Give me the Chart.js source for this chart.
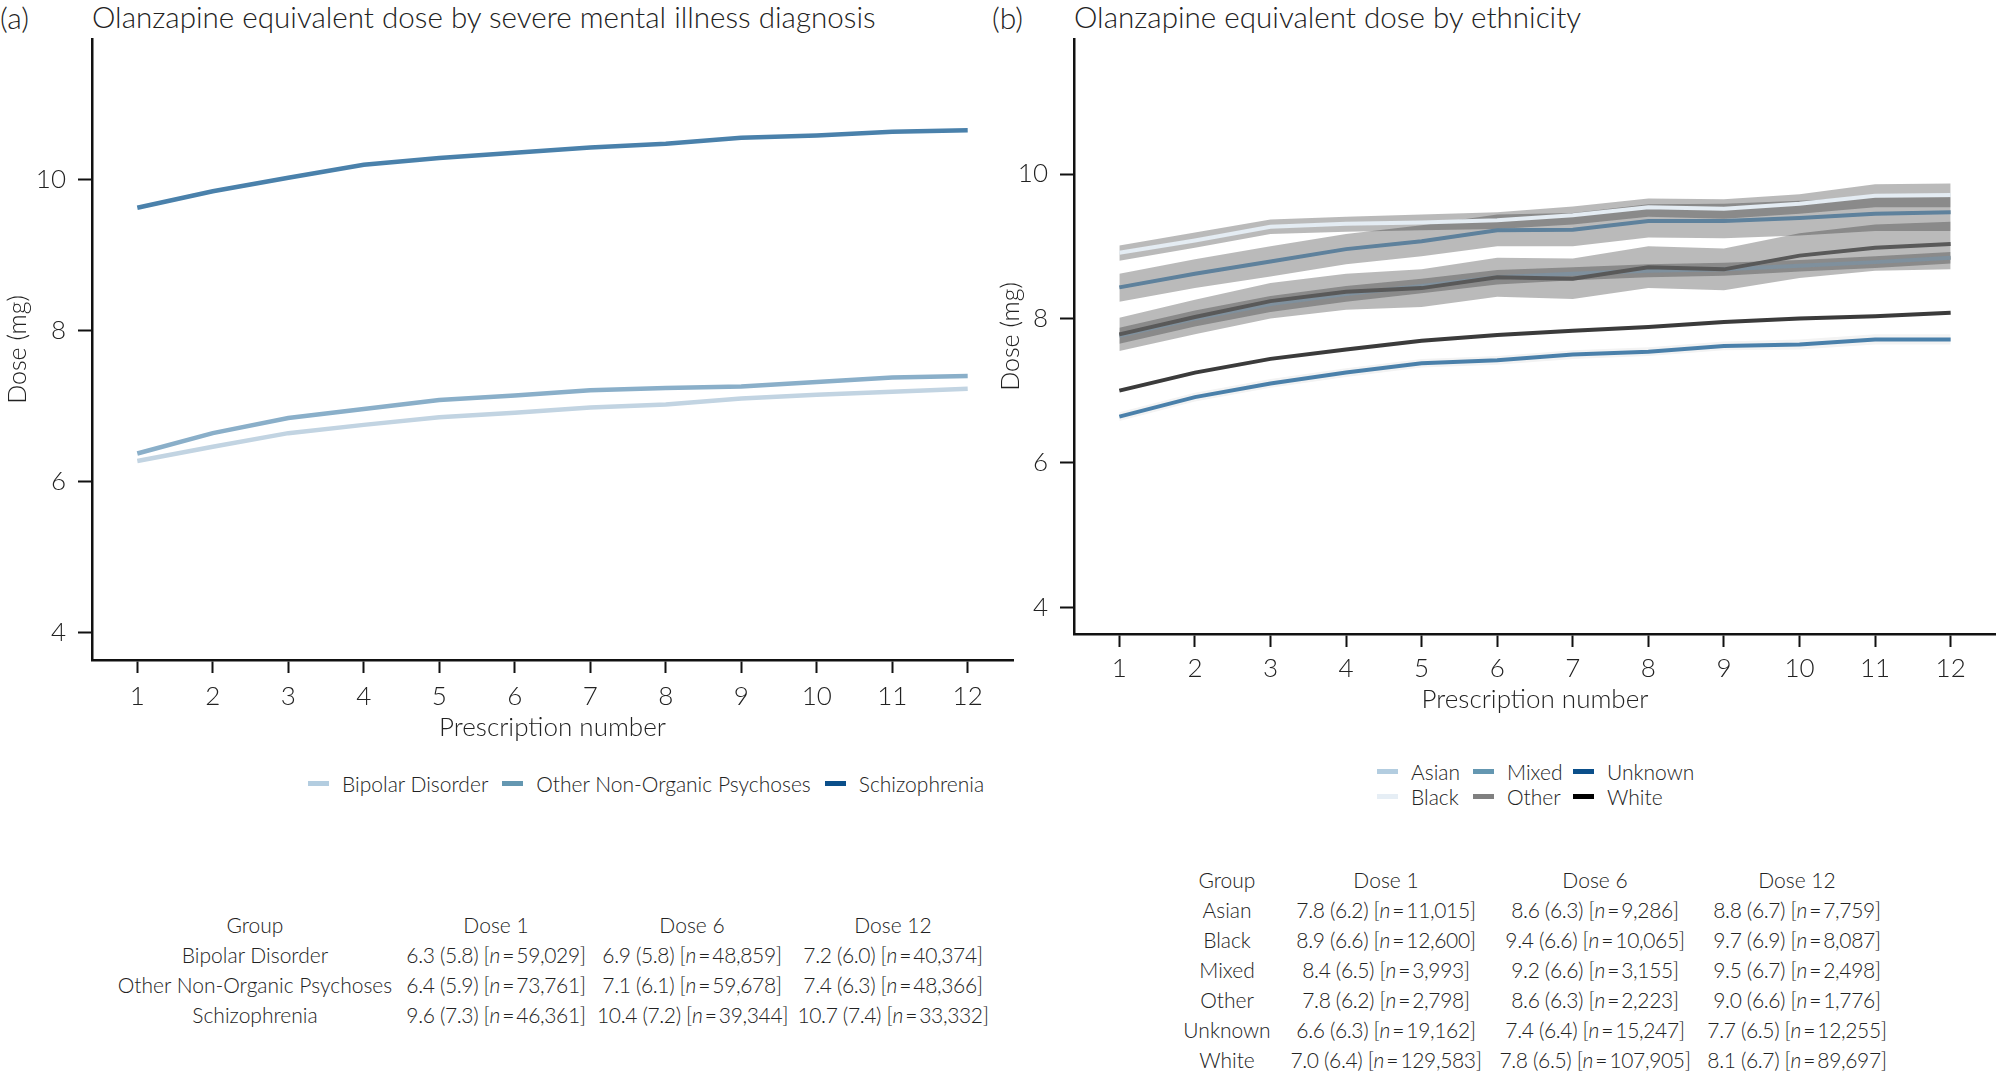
<!DOCTYPE html>
<html>
<head>
<meta charset="utf-8">
<title>Olanzapine equivalent dose</title>
<script src="https://cdn.jsdelivr.net/npm/chart.js@4.4.1/dist/chart.umd.min.js"></script>
<style>
  html, body { margin: 0; padding: 0; background: #fff; }
  body {
    width: 1996px; height: 1075px; position: relative; overflow: hidden;
    font-family: Lato, 'Noto Sans', sans-serif; font-weight: 300; color: #222;
  }
  .tag, .title { position: absolute; top: 0; font-size: 30px; line-height: 34px; white-space: nowrap; }
  .title { font-size: 29.6px; }
  .box { position: absolute; }
  .legend { position: absolute; font-size: 21px; line-height: 25px; white-space: nowrap; }
  .legend .item { display: flex; align-items: center; }
  .legend .sw { width: 21px; height: 5px; margin-right: 13px; flex: none; }
  #legendA { left: 308px; top: 771px; display: flex; gap: 14px; }
  #legendB { left: 1377px; top: 759px; display: grid; grid-auto-flow: column;
             grid-template-rows: 25px 25px; grid-template-columns: 96px 100px auto; }
  table.stats { position: absolute; border-collapse: collapse; font-size: 21px; table-layout: fixed; }
  table.stats td { padding: 0; text-align: center; white-space: nowrap; height: 30px; line-height: 30px; }
  table.stats td.v { letter-spacing: -0.35px; }
  table.stats i { font-style: italic; }
  #tableA { left: 115px; top: 910px; width: 884px; }
  #tableB { left: 1167px; top: 865px; width: 722px; }
</style>
</head>
<body>

<div class="tag" style="left:0">(a)</div>
<div class="title" style="left:92px">Olanzapine equivalent dose by severe mental illness diagnosis</div>
<div class="tag" style="left:992px">(b)</div>
<div class="title" style="left:1074px">Olanzapine equivalent dose by ethnicity</div>

<div class="box" style="left:0;top:0;width:1030px;height:743px"><canvas id="chartA"></canvas></div>
<div class="box" style="left:982px;top:0;width:1014px;height:715px"><canvas id="chartB"></canvas></div>

<div class="legend" id="legendA"></div>
<div class="legend" id="legendB"></div>

<table class="stats" id="tableA">
  <colgroup><col style="width:280px"><col style="width:202px"><col style="width:190px"><col style="width:212px"></colgroup>
  <tbody></tbody>
</table>
<table class="stats" id="tableB">
  <colgroup><col style="width:120px"><col style="width:198px"><col style="width:220px"><col style="width:184px"></colgroup>
  <tbody></tbody>
</table>

<script>
// ─── Data ─────────────────────────────────────────────────────────────────

const doses  = [1, 2, 3, 4, 5, 6, 7, 8, 9, 10, 11, 12];
const yTicks = [4, 6, 8, 10];

// (a) by diagnosis
const diagnoses      = ['Bipolar Disorder', 'Other Non-Organic Psychoses', 'Schizophrenia'];
const bipolar        = [6.27, 6.46, 6.64, 6.75, 6.85, 6.91, 6.98, 7.02, 7.10, 7.15, 7.19, 7.23];
const otherPsychoses = [6.37, 6.64, 6.84, 6.96, 7.08, 7.14, 7.21, 7.24, 7.26, 7.32, 7.38, 7.40];
const schizophrenia  = [9.63, 9.85, 10.03, 10.20, 10.29, 10.36, 10.43, 10.48, 10.56, 10.59, 10.64, 10.66];

// (b) by ethnicity: mean line plus ribbon bounds
const ethnicities = ['Asian', 'Black', 'Mixed', 'Other', 'Unknown', 'White'];

const asianMean = [7.76, 8.00, 8.20, 8.34, 8.45, 8.57, 8.62, 8.66, 8.68, 8.73, 8.78, 8.84];
const asianHi   = [7.87, 8.11, 8.31, 8.45, 8.55, 8.67, 8.71, 8.75, 8.77, 8.81, 8.86, 8.92];
const asianLo   = [7.65, 7.89, 8.09, 8.23, 8.35, 8.47, 8.53, 8.57, 8.59, 8.65, 8.70, 8.76];

const blackMean = [8.91, 9.08, 9.27, 9.31, 9.33, 9.36, 9.43, 9.54, 9.52, 9.59, 9.70, 9.71];
const blackHi   = [9.01, 9.19, 9.37, 9.41, 9.44, 9.47, 9.55, 9.66, 9.65, 9.72, 9.86, 9.87];
const blackLo   = [8.80, 8.98, 9.17, 9.20, 9.22, 9.24, 9.30, 9.41, 9.38, 9.45, 9.54, 9.54];

const mixedMean = [8.43, 8.62, 8.79, 8.96, 9.07, 9.22, 9.23, 9.35, 9.35, 9.39, 9.45, 9.47];
const mixedHi   = [8.62, 8.82, 9.00, 9.17, 9.29, 9.44, 9.46, 9.58, 9.59, 9.63, 9.68, 9.68];
const mixedLo   = [8.23, 8.42, 8.58, 8.75, 8.86, 9.00, 9.00, 9.12, 9.11, 9.15, 9.21, 9.21];

const otherMean = [7.78, 8.02, 8.24, 8.37, 8.42, 8.57, 8.55, 8.71, 8.68, 8.87, 8.98, 9.03];
const otherHi   = [8.01, 8.26, 8.49, 8.62, 8.68, 8.84, 8.83, 9.00, 8.97, 9.18, 9.30, 9.34];
const otherLo   = [7.55, 7.78, 8.00, 8.12, 8.16, 8.30, 8.27, 8.42, 8.39, 8.56, 8.66, 8.68];

const unknownMean = [6.64, 6.91, 7.10, 7.25, 7.38, 7.42, 7.50, 7.54, 7.62, 7.64, 7.71, 7.71];
const unknownHi   = [6.70, 6.97, 7.16, 7.31, 7.44, 7.48, 7.56, 7.60, 7.68, 7.71, 7.78, 7.78];
const unknownLo   = [6.58, 6.85, 7.04, 7.19, 7.32, 7.36, 7.44, 7.48, 7.56, 7.57, 7.64, 7.64];

const whiteMean = [7.00, 7.25, 7.44, 7.57, 7.69, 7.77, 7.83, 7.88, 7.95, 8.00, 8.03, 8.08];
const whiteHi   = [7.03, 7.28, 7.47, 7.60, 7.72, 7.80, 7.86, 7.91, 7.98, 8.03, 8.06, 8.11];
const whiteLo   = [6.97, 7.22, 7.41, 7.54, 7.66, 7.74, 7.80, 7.85, 7.92, 7.97, 8.00, 8.05];

// Summary tables: mean (sd) and n at doses 1, 6 and 12
const tableHeader = ['Group', 'Dose 1', 'Dose 6', 'Dose 12'];

const diagDose1  = ['6.3 (5.8)', '6.4 (5.9)', '9.6 (7.3)'];
const diagN1     = ['59,029', '73,761', '46,361'];
const diagDose6  = ['6.9 (5.8)', '7.1 (6.1)', '10.4 (7.2)'];
const diagN6     = ['48,859', '59,678', '39,344'];
const diagDose12 = ['7.2 (6.0)', '7.4 (6.3)', '10.7 (7.4)'];
const diagN12    = ['40,374', '48,366', '33,332'];

const ethDose1  = ['7.8 (6.2)', '8.9 (6.6)', '8.4 (6.5)', '7.8 (6.2)', '6.6 (6.3)', '7.0 (6.4)'];
const ethN1     = ['11,015', '12,600', '3,993', '2,798', '19,162', '129,583'];
const ethDose6  = ['8.6 (6.3)', '9.4 (6.6)', '9.2 (6.6)', '8.6 (6.3)', '7.4 (6.4)', '7.8 (6.5)'];
const ethN6     = ['9,286', '10,065', '3,155', '2,223', '15,247', '107,905'];
const ethDose12 = ['8.8 (6.7)', '9.7 (6.9)', '9.5 (6.7)', '9.0 (6.6)', '7.7 (6.5)', '8.1 (6.7)'];
const ethN12    = ['7,759', '8,087', '2,498', '1,776', '12,255', '89,697'];

// ─── Styles ───────────────────────────────────────────────────────────────

const INK    = '#222';
const AXIS   = '#111';
const FONT   = 'Lato, "Noto Sans", sans-serif';

const diagLineColor   = ['#c2d4e2', '#8aafc9', '#4a81ab'];
const diagLegendColor = ['#b3cde0', '#6497b1', '#0b4f8a'];

const ethLineColor   = ['#7f909d', '#e4ecf3', '#5e819c', '#595959', '#4a80aa', '#3b3b3b'];
const ethLegendColor = ['#b3cde0', '#e6eef5', '#6497b1', '#808080', '#0b4f8a', '#000000'];
const ethRibbonColor = ['rgba(25,25,25,0.30)', 'rgba(25,25,25,0.30)', 'rgba(25,25,25,0.30)',
                        'rgba(25,25,25,0.30)', 'rgba(25,25,25,0.05)', 'rgba(25,25,25,0.04)'];

// ─── Helpers ──────────────────────────────────────────────────────────────

const pts = arr => doses.map((d, i) => ({ x: d, y: arr[i] }));

function lineSet(label, values, color, width) {
    return {
        label, data: pts(values),
        borderColor: color, backgroundColor: color,
        borderWidth: width, pointRadius: 0, tension: 0,
        fill: false, order: 1
    };
}

/** Build axis options; the plot box is pinned with afterFit. */
function axes(cfg) {
    const tickFont  = { family: FONT, size: 26, weight: '300' };
    const titleFont = { family: FONT, size: 25, weight: '300' };
    return {
        x: {
            type: 'linear', min: 0.4, max: 12.6,
            afterBuildTicks: s => { s.ticks = doses.map(v => ({ value: v })); },
            afterFit: s => { s.height = cfg.xHeight; },
            grid: { drawOnChartArea: false, drawTicks: true, tickLength: 13, tickWidth: 2, tickColor: AXIS },
            border: { display: true, color: AXIS, width: 2.5 },
            ticks: { color: INK, font: tickFont, padding: cfg.xPad, maxRotation: 0, autoSkip: false,
                     callback: v => String(v) },
            title: { display: true, text: 'Prescription number', color: INK,
                     font: { family: FONT, size: 26, weight: '300' }, padding: 0 }
        },
        y: {
            type: 'linear', min: 3.63, max: 11.87,
            afterBuildTicks: s => { s.ticks = yTicks.map(v => ({ value: v })); },
            afterFit: s => { s.width = cfg.yWidth; },
            grid: { drawOnChartArea: false, drawTicks: true, tickLength: 14, tickWidth: 2, tickColor: AXIS },
            border: { display: true, color: AXIS, width: 2.5 },
            ticks: { color: INK, font: tickFont, padding: 12, callback: v => String(v) },
            title: { display: true, text: 'Dose (mg)', color: INK, font: titleFont,
                     padding: { top: cfg.yTitlePad, bottom: 0 } }
        }
    };
}

function baseOptions(cfg) {
    return {
        responsive: true,
        maintainAspectRatio: false,
        animation: false,
        events: [],
        layout: { padding: { top: 39, right: cfg.padRight, left: 0, bottom: 0 } },
        plugins: { legend: { display: false }, tooltip: { enabled: false } },
        scales: axes(cfg)
    };
}

// ─── Panel (a) ────────────────────────────────────────────────────────────

const diagSeries = [bipolar, otherPsychoses, schizophrenia];

new Chart(document.getElementById('chartA'), {
    type: 'line',
    data: {
        datasets: diagSeries.map((vals, i) => lineSet(diagnoses[i], vals, diagLineColor[i], 4.5)).reverse()
    },
    options: baseOptions({ xHeight: 83, yWidth: 92, padRight: 17, xPad: 8, yTitlePad: 3 })
});

// ─── Panel (b) ────────────────────────────────────────────────────────────

const ethMean = [asianMean, blackMean, mixedMean, otherMean, unknownMean, whiteMean];
const ethHi   = [asianHi, blackHi, mixedHi, otherHi, unknownHi, whiteHi];
const ethLo   = [asianLo, blackLo, mixedLo, otherLo, unknownLo, whiteLo];

// lines first in the array so they are painted on top; Asian lowest
const lineOrder = [5, 4, 3, 2, 1, 0];
const ethDatasets = lineOrder.map(i => lineSet(ethnicities[i], ethMean[i], ethLineColor[i], 4));

ethnicities.forEach((name, i) => {
    const lowerIndex = ethDatasets.length;
    ethDatasets.push({
        label: name + ' lower', data: pts(ethLo[i]),
        borderWidth: 0, pointRadius: 0, tension: 0, fill: false, order: 2
    });
    ethDatasets.push({
        label: name + ' upper', data: pts(ethHi[i]),
        borderWidth: 0, pointRadius: 0, tension: 0,
        fill: lowerIndex, backgroundColor: ethRibbonColor[i], order: 2
    });
});

new Chart(document.getElementById('chartB'), {
    type: 'line',
    data: { datasets: ethDatasets },
    options: baseOptions({ xHeight: 81, yWidth: 92, padRight: 0, xPad: 6, yTitlePad: 14 })
});

// ─── Legends ──────────────────────────────────────────────────────────────

function legendItem(name, color) {
    const item = document.createElement('div');
    item.className = 'item';
    item.innerHTML = `<span class="sw" style="background:${color}"></span><span>${name}</span>`;
    return item;
}

const legendA = document.getElementById('legendA');
diagnoses.forEach((name, i) => legendA.appendChild(legendItem(name, diagLegendColor[i])));

const legendB = document.getElementById('legendB');
ethnicities.forEach((name, i) => legendB.appendChild(legendItem(name, ethLegendColor[i])));

// ─── Tables ───────────────────────────────────────────────────────────────

const cell = (v, n) => `<td class="v">${v} [<i>n</i>&#8201;=&#8201;${n}]</td>`;

function fillTable(id, groups, d1, n1, d6, n6, d12, n12) {
    const body = document.querySelector(`#${id} tbody`);
    let html = '<tr>' + tableHeader.map(h => `<td>${h}</td>`).join('') + '</tr>';
    groups.forEach((g, i) => {
        html += `<tr><td>${g}</td>${cell(d1[i], n1[i])}${cell(d6[i], n6[i])}${cell(d12[i], n12[i])}</tr>`;
    });
    body.innerHTML = html;
}

fillTable('tableA', diagnoses, diagDose1, diagN1, diagDose6, diagN6, diagDose12, diagN12);
fillTable('tableB', ethnicities, ethDose1, ethN1, ethDose6, ethN6, ethDose12, ethN12);
</script>
</body>
</html>
